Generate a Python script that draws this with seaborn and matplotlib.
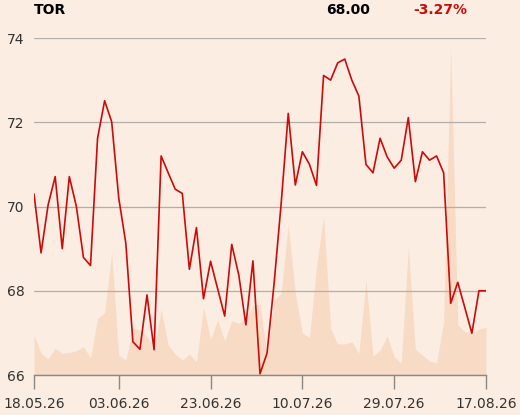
import numpy as np
import pandas as pd
import seaborn as sns
import matplotlib.pyplot as plt

# Kurs (Schlusskurse) und Umsatz
kurs = [70.30, 68.90, 70.04, 70.71, 69.00, 70.71, 70.00, 68.79, 68.60, 71.62,
        72.51, 72.01, 70.20, 69.13, 66.79, 66.61, 67.90, 66.60, 71.20, 70.80,
        70.41, 70.31, 68.51, 69.50, 67.81, 68.70, 68.05, 67.40, 69.10, 68.37,
        67.19, 68.71, 66.03, 66.52, 68.18, 70.08, 72.21, 70.51, 71.30, 71.00,
        70.50, 73.11, 73.00, 73.41, 73.50, 73.00, 72.62, 71.00, 70.80, 71.62,
        71.18, 70.91, 71.10, 72.11, 70.59, 71.30, 71.10, 71.20, 70.80, 67.70,
        68.20, 67.60, 66.99, 68.00, 68.00]

umsatz = [4000, 2170, 1600, 2670, 2170, 2270, 2430, 2830, 1670, 5670,
          6230, 12230, 2000, 1500, 4670, 4500, 3850, 2500, 6570, 3000,
          2100, 1500, 2100, 1330, 6770, 3570, 5500, 3430, 5430, 5170,
          5670, 7000, 7100, 2000, 7500, 8170, 15000, 8170, 4170, 3770,
          10830, 15830, 4670, 3100, 3100, 3330, 2170, 9500, 1900, 2500,
          3900, 1830, 1170, 12770, 2570, 2000, 1400, 1230, 5330, 32800,
          5000, 4330, 4230, 4570, 4770]

handelstage = pd.bdate_range("2026-05-18", "2026-08-17").drop(pd.Timestamp("2026-06-04"))
tick_idx = [0, 12, 25, 38, 51, 64]
y_ticks = [66, 68, 70, 72, 74]

name = "TOR"
letzter = kurs[-1]
veraenderung = (kurs[-1] / kurs[0] - 1) * 100

bg = "#fbede1"
rot = "#cc0a0a"

sns.set_theme(style="white")
plt.rcParams['font.family'] = ['DejaVu Sans']

fig = plt.figure(figsize=(5.2, 4.15), dpi=100, facecolor=bg)
ax_vol = fig.add_axes([34/520, 1 - 375/415, 452/520, 337/415])
ax = ax_vol.twinx()

# Umsatz als Flaeche im Hintergrund
x = np.arange(len(kurs))
ax_vol.fill_between(x, 0, umsatz, color="#f8dbc5", lw=0)
ax_vol.set_ylim(0, max(umsatz) * 337 / 328)
ax_vol.set_facecolor(bg)
ax_vol.set_yticks([])

# Kurslinie vorne
ax.set_zorder(ax_vol.get_zorder() + 1)
ax.patch.set_visible(False)
df = pd.DataFrame({"i": x, "kurs": kurs})
sns.lineplot(data=df, x="i", y="kurs", ax=ax, color=rot, lw=1.2)

ax.set_xlim(0, len(kurs) - 1)
ax.set_ylim(66, 74)
ax.yaxis.tick_left()
ax.set_yticks(y_ticks)
ax.set_yticklabels([str(t) for t in y_ticks], fontsize=10, color="#333333")
ax.grid(axis="y", color="#b2aeaa", lw=0.9)
ax.set_xlabel("")
ax.set_ylabel("")

ax_vol.set_xticks(tick_idx)
ax_vol.set_xticklabels([handelstage[i].strftime("%d.%m.%y") for i in tick_idx],
                       fontsize=10, color="#333333")
ax_vol.tick_params(axis="x", bottom=True, labelbottom=True, length=10, width=1,
                   color="#8a8784", pad=6)
ax.tick_params(axis="x", bottom=False, labelbottom=False)
ax.tick_params(axis="y", length=0, pad=7)

for a in (ax, ax_vol):
    for s in ("top", "right", "left", "bottom"):
        a.spines[s].set_visible(False)
ax_vol.spines["bottom"].set_visible(True)
ax_vol.spines["bottom"].set_color("#8a8784")
ax_vol.spines["bottom"].set_linewidth(1)

fig.text(34/520, 1 - 10/415, name, fontsize=10, fontweight="bold", color="black", va="center")
fig.text(370/520, 1 - 10/415, f"{letzter:.2f}", fontsize=10, fontweight="bold",
         color="black", va="center", ha="right")
fig.text(467/520, 1 - 10/415, f"{veraenderung:.2f}%", fontsize=10, fontweight="bold",
         color=rot, va="center", ha="right")

fig.savefig("out.png", dpi=100, facecolor=bg)
